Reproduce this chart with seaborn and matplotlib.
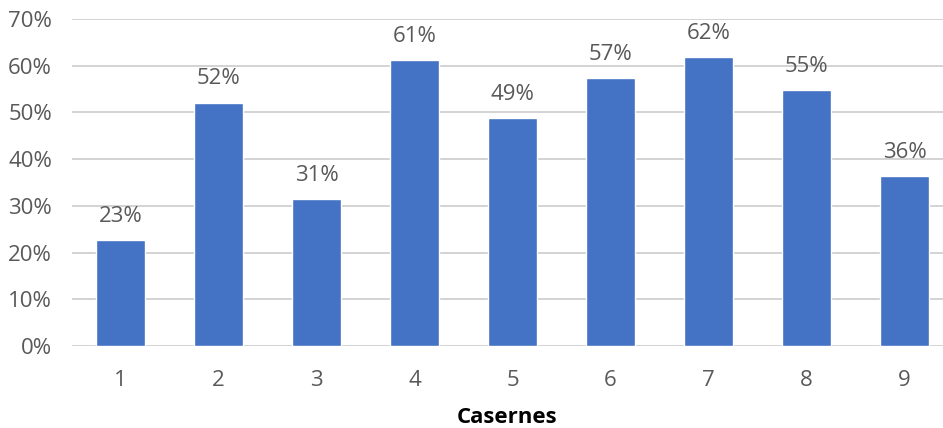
import matplotlib
matplotlib.use("Agg")
import matplotlib.pyplot as plt
import seaborn as sns
import pandas as pd

# Share of each barracks (Casernes)
casernes = ["1", "2", "3", "4", "5", "6", "7", "8", "9"]
taux = [22.7, 52.1, 31.4, 61.2, 48.8, 57.4, 61.8, 54.8, 36.4]
y_ticks = [0, 10, 20, 30, 40, 50, 60, 70]

df = pd.DataFrame({"Casernes": casernes, "Taux": taux})

sns.set_theme(style="white")
plt.rcParams["font.family"] = ["Open Sans", "DejaVu Sans"]

BAR = "#4472C4"
TXT = "#595959"
GRID = "#D0D0D0"
FS = 16

fig = plt.figure(figsize=(9.43, 4.28), dpi=100)
ax = fig.add_axes([71.5 / 943, 1 - 346 / 428, (943 - 71.5) / 943, (346 - 19) / 428])

sns.barplot(data=df, x="Casernes", y="Taux", color=BAR, width=0.5,
            saturation=1, ax=ax, zorder=3)

ax.set_ylim(0, 70)
ax.set_xlim(-0.5, 8.5 - (953.7 - 943) / 98)
ax.set_yticks(y_ticks)
ax.set_yticklabels([f"{t}%" for t in y_ticks])
ax.yaxis.grid(True, color=GRID, linewidth=1.3, zorder=0)
ax.set_axisbelow(True)
for s in ax.spines.values():
    s.set_visible(False)
ax.tick_params(axis="both", length=0, colors=TXT, labelsize=FS)
ax.tick_params(axis="x", pad=17)
ax.tick_params(axis="y", pad=14)
for lbl in ax.get_xticklabels() + ax.get_yticklabels():
    lbl.set_color(TXT)

for i, v in enumerate(taux):
    ax.annotate(f"{v:.0f}%", (i, v), xytext=(0, 9.5), textcoords="offset points",
                ha="center", va="bottom", fontsize=FS, color=TXT)

ax.set_ylabel("")
ax.set_xlabel("Casernes", fontsize=FS, fontweight="bold", color="black", labelpad=12)

fig.savefig("out.png", dpi=100)
